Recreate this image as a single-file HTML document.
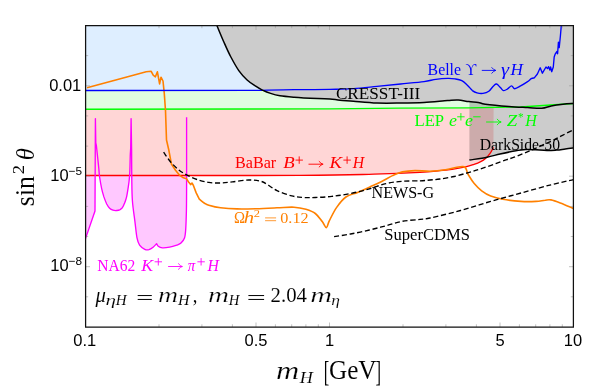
<!DOCTYPE html>
<html><head><meta charset="utf-8"><style>
html,body{margin:0;padding:0;background:#fff;}
svg{display:block;}
svg text{filter:opacity(1);}
.se{font-family:"Liberation Serif",serif;}
.sa{font-family:"Liberation Sans",sans-serif;}
</style></head><body>
<svg width="599" height="387" viewBox="0 0 599 387">
<rect width="599" height="387" fill="#fff"/>
<defs><clipPath id="cm"><rect x="85.5" y="175.5" width="110" height="90"/></clipPath></defs>
<rect x="85.5" y="25.5" width="488.0" height="65.0" fill="#deeeff"/>
<polygon points="85.5,90.5 262.0,90.3 573.5,90.3 573.5,103.5 520.6,107.0 470.0,107.8 400.0,108.2 330.0,108.9 250.0,109.0 85.5,109.2" fill="#e0fde0"/>
<path d="M85.5,109.2L250.0,109.0L330.0,108.9L400.0,108.2L470.0,107.8L493.6,107.5L493.4,147.4L493.4,147.4C493.0,148.2 491.9,150.6 491.0,152.0C490.1,153.4 489.2,154.5 488.3,155.6C487.4,156.7 486.7,157.4 485.5,158.4C484.3,159.4 483.1,160.3 481.2,161.3C479.3,162.3 476.6,163.5 474.0,164.4C471.4,165.3 469.3,166.1 465.6,166.9C461.9,167.7 456.3,168.7 452.0,169.3C447.7,169.9 445.3,170.2 440.0,170.7C434.7,171.2 431.0,171.8 420.0,172.4C409.0,173.0 394.0,173.7 374.0,174.2C354.0,174.7 348.1,175.2 300.0,175.4C251.9,175.6 121.2,175.5 85.5,175.5Z" fill="#ffd6d6"/>
<path d="M85.5,100L85.5,238.6L95.0,211.0L95.4,118.6L95.8,143.0L96.4,145.7C96.6,147.6 97.2,153.2 97.6,157.0C98.0,160.8 98.5,165.1 98.8,168.4C99.1,171.7 99.1,173.7 99.6,177.0C100.1,180.3 100.9,185.0 101.6,188.3C102.3,191.6 103.1,194.3 103.9,196.9C104.8,199.5 105.8,202.1 106.7,204.0C107.7,205.9 108.5,207.2 109.6,208.2C110.6,209.2 111.8,209.8 113.0,210.2C114.2,210.6 115.5,210.6 116.7,210.5C117.9,210.4 119.1,210.1 120.1,209.6C121.0,209.1 121.7,208.8 122.4,207.7C123.2,206.6 123.9,204.9 124.6,203.1C125.3,201.3 126.0,199.6 126.6,196.9C127.2,194.2 127.8,190.2 128.3,186.9C128.8,183.6 129.2,180.6 129.5,177.0C129.8,173.4 129.9,169.4 130.0,165.6C130.1,161.8 130.2,156.1 130.3,154.2L130.7,148.0L131.1,118.6L131.6,150.0C131.6,155.0 131.7,171.6 131.8,180.0C131.9,188.4 131.9,193.8 132.4,200.7C132.9,207.6 134.1,215.1 134.9,221.3C135.7,227.5 136.2,233.9 137.0,237.9C137.8,241.9 138.3,243.2 139.6,245.1C140.9,247.0 143.2,248.5 144.8,249.3C146.4,250.1 147.5,250.0 148.9,249.7C150.3,249.3 151.8,248.2 153.1,247.2C154.4,246.2 156.0,244.3 156.6,243.7L156.6,243.7C156.9,244.1 157.2,245.5 158.2,246.2C159.2,246.9 160.5,247.6 162.4,247.8C164.3,248.0 167.2,247.6 169.6,247.2C172.0,246.8 174.9,245.8 176.8,245.1C178.7,244.4 179.7,244.2 181.0,243.0C182.3,241.8 183.7,240.1 184.5,237.9C185.3,235.7 185.4,234.1 185.7,229.6C186.0,225.1 186.2,219.3 186.4,211.0C186.6,202.7 186.6,185.2 186.6,180.0L186.6,117.2L186.6,100Z" fill="#ffc8ff" clip-path="url(#cm)"/>
<path d="M216.9,25.5C218.0,28.1 221.2,36.0 223.5,41.2C225.8,46.4 228.0,51.6 230.6,56.5C233.2,61.4 236.1,66.7 238.8,70.6C241.6,74.5 244.3,77.5 247.1,80.0C249.8,82.5 252.8,84.2 255.3,85.9C257.9,87.6 259.8,88.8 262.4,90.1C264.9,91.3 267.7,92.5 270.6,93.4C273.5,94.4 276.1,95.2 280.0,95.8C283.9,96.4 287.8,96.7 294.1,97.2C300.4,97.7 311.6,98.3 317.6,98.6C323.6,98.9 326.3,98.6 330.0,98.9C333.7,99.2 336.1,99.8 340.0,100.2C343.9,100.6 347.3,100.7 353.5,101.2C359.7,101.7 369.1,102.7 377.0,103.0C384.9,103.3 392.8,103.1 400.6,103.0C408.4,102.9 416.2,102.8 424.0,102.4C431.8,102.0 441.9,100.9 447.6,100.5C453.3,100.1 454.7,99.8 458.2,100.0C461.7,100.2 465.5,101.2 468.8,101.6C472.1,102.0 475.4,102.0 478.2,102.4C480.9,102.8 480.2,103.5 485.3,104.2C490.4,104.9 501.8,105.9 508.8,106.4C515.9,107.0 522.1,107.2 527.6,107.5C533.1,107.8 537.9,108.5 541.8,108.2C545.7,107.9 547.7,106.6 551.2,105.9C554.7,105.2 559.3,104.6 563.0,104.2C566.7,103.8 571.8,103.6 573.5,103.5L573.5,25.5Z" fill="#cccccc"/>
<path d="M469.4,101.7C470.9,101.8 475.5,102.0 478.2,102.4C480.9,102.8 480.2,103.5 485.3,104.2C490.4,104.9 501.8,105.9 508.8,106.4C515.9,107.0 522.1,107.2 527.6,107.5C533.1,107.8 537.9,108.5 541.8,108.2C545.7,107.9 547.7,106.6 551.2,105.9C554.7,105.2 559.3,104.6 563.0,104.2C566.7,103.8 571.8,103.6 573.5,103.5L573.5,148.0C572.1,148.2 568.1,148.8 565.3,149.1C562.5,149.4 559.9,149.9 556.8,150.1C553.7,150.3 550.4,150.6 546.9,150.5C543.4,150.4 539.0,150.0 535.5,149.8C532.0,149.7 529.1,149.4 525.6,149.6C522.1,149.8 518.5,150.4 514.2,151.1C509.9,151.8 504.5,153.0 500.0,154.0C495.5,155.0 492.1,156.2 487.0,157.2C481.9,158.2 472.3,159.6 469.4,160.1Z" fill="#000" fill-opacity="0.2"/>
<path d="M85.5,109.2L250.0,109.0L330.0,108.9L400.0,108.2L470.0,107.8L520.6,107.0L573.5,103.5" fill="none" stroke="#00ff00" stroke-width="1.35" stroke-linejoin="round" />
<path d="M85.5,175.5C121.2,175.5 251.9,175.6 300.0,175.4C348.1,175.2 354.0,174.7 374.0,174.2C394.0,173.7 409.0,173.0 420.0,172.4C431.0,171.8 434.7,171.2 440.0,170.7C445.3,170.2 447.7,169.9 452.0,169.3C456.3,168.7 461.9,167.7 465.6,166.9C469.3,166.1 471.4,165.3 474.0,164.4C476.6,163.5 479.3,162.3 481.2,161.3C483.1,160.3 484.3,159.4 485.5,158.4C486.7,157.4 487.4,156.7 488.3,155.6C489.2,154.5 490.1,153.4 491.0,152.0C491.9,150.6 493.0,148.2 493.4,147.4" fill="none" stroke="#ff0000" stroke-width="1.35" stroke-linejoin="round" />
<path d="M85.5,238.6L95.0,211.0L95.4,118.6L95.8,143.0L96.4,145.7C96.6,147.6 97.2,153.2 97.6,157.0C98.0,160.8 98.5,165.1 98.8,168.4C99.1,171.7 99.1,173.7 99.6,177.0C100.1,180.3 100.9,185.0 101.6,188.3C102.3,191.6 103.1,194.3 103.9,196.9C104.8,199.5 105.8,202.1 106.7,204.0C107.7,205.9 108.5,207.2 109.6,208.2C110.6,209.2 111.8,209.8 113.0,210.2C114.2,210.6 115.5,210.6 116.7,210.5C117.9,210.4 119.1,210.1 120.1,209.6C121.0,209.1 121.7,208.8 122.4,207.7C123.2,206.6 123.9,204.9 124.6,203.1C125.3,201.3 126.0,199.6 126.6,196.9C127.2,194.2 127.8,190.2 128.3,186.9C128.8,183.6 129.2,180.6 129.5,177.0C129.8,173.4 129.9,169.4 130.0,165.6C130.1,161.8 130.2,156.1 130.3,154.2L130.7,148.0L131.1,118.6L131.6,150.0C131.6,155.0 131.7,171.6 131.8,180.0C131.9,188.4 131.9,193.8 132.4,200.7C132.9,207.6 134.1,215.1 134.9,221.3C135.7,227.5 136.2,233.9 137.0,237.9C137.8,241.9 138.3,243.2 139.6,245.1C140.9,247.0 143.2,248.5 144.8,249.3C146.4,250.1 147.5,250.0 148.9,249.7C150.3,249.3 151.8,248.2 153.1,247.2C154.4,246.2 156.0,244.3 156.6,243.7L156.6,243.7C156.9,244.1 157.2,245.5 158.2,246.2C159.2,246.9 160.5,247.6 162.4,247.8C164.3,248.0 167.2,247.6 169.6,247.2C172.0,246.8 174.9,245.8 176.8,245.1C178.7,244.4 179.7,244.2 181.0,243.0C182.3,241.8 183.7,240.1 184.5,237.9C185.3,235.7 185.4,234.1 185.7,229.6C186.0,225.1 186.2,219.3 186.4,211.0C186.6,202.7 186.6,185.2 186.6,180.0L186.6,117.2" fill="none" stroke="#ff00ff" stroke-width="1.35" stroke-linejoin="round" />
<path d="M87.0,87.8L117.6,79.4L146.2,71.8L151.2,71.3L153.2,75.2L155.4,76.8L157.4,71.8L159.6,83.9L161.0,77.2L163.0,81.0L164.3,93.7L165.5,110.5L166.5,140.0L168.7,149.5L171.4,164.0L175.5,170.2L179.6,175.3L182.7,177.4L186.5,178.8L189.0,182.6L190.6,184.6L192.0,183.0L193.5,185.7L196.2,192.9L199.3,199.1L199.3,199.1C200.2,199.8 202.9,202.2 204.5,203.2C206.1,204.2 206.1,204.4 208.8,205.2C211.5,206.0 215.9,207.2 220.6,207.8C225.3,208.4 231.1,208.8 237.0,208.9C242.9,209.1 249.2,208.9 255.9,208.7C262.6,208.5 270.6,208.1 277.0,207.8C283.4,207.6 289.2,206.9 294.0,207.2C298.8,207.4 302.3,208.2 305.9,209.3C309.4,210.4 312.6,211.4 315.3,213.5C318.1,215.6 320.5,219.5 322.4,221.8C324.2,224.2 325.2,227.8 326.4,227.6C327.6,227.4 327.7,223.9 329.4,220.6C331.1,217.3 333.8,211.5 336.5,207.6C339.2,203.7 342.4,199.5 345.9,197.0C349.4,194.5 353.7,194.0 357.6,192.4C361.5,190.8 365.5,189.0 369.4,187.2C373.3,185.4 377.3,183.8 381.2,181.8C385.1,179.8 389.5,177.1 393.0,175.4C396.5,173.8 398.7,172.7 402.4,171.9C406.1,171.1 410.4,170.7 415.0,170.6C419.6,170.5 424.9,171.3 430.0,171.2C435.1,171.0 439.8,170.5 445.4,169.7C451.0,168.9 459.7,165.8 463.5,166.6C467.3,167.3 466.2,171.4 468.0,174.2C469.8,177.0 471.7,180.5 474.0,183.3C476.3,186.1 478.9,188.7 481.7,190.8C484.5,192.9 487.2,194.6 490.7,196.0C494.2,197.4 497.8,198.4 502.8,199.3C507.9,200.2 515.5,201.1 521.0,201.4C526.5,201.8 532.0,201.6 536.0,201.4C540.0,201.2 542.5,200.4 545.0,200.2C547.5,199.9 548.5,199.4 551.0,199.9C553.5,200.4 556.5,201.5 560.3,202.9C564.0,204.3 571.3,207.5 573.5,208.4" fill="none" stroke="#ff8000" stroke-width="1.6" stroke-linejoin="round" />
<path d="M85.5,90.5L262.0,90.3L262.0,90.3C267.3,90.2 282.7,89.8 294.0,89.7C305.3,89.6 320.1,89.6 330.0,89.4C339.9,89.2 345.7,89.2 353.5,88.7C361.3,88.2 369.1,87.2 377.0,86.4C384.9,85.6 392.8,84.8 400.6,84.0C408.4,83.2 418.1,82.4 424.0,81.6C429.9,80.8 432.0,79.8 435.9,79.3C439.8,78.8 444.4,78.5 447.6,78.4C450.8,78.3 452.6,78.5 455.0,78.9C457.4,79.3 459.7,79.6 461.8,80.7C463.9,81.8 465.8,83.8 467.6,85.4C469.4,87.1 470.8,89.3 472.4,90.6C474.0,91.8 475.2,92.4 477.0,92.9C478.8,93.4 481.0,93.7 483.0,93.4C485.0,93.1 487.1,92.5 488.8,91.3C490.6,90.0 492.2,87.1 493.5,85.9C494.8,84.7 495.4,83.7 496.6,84.0C497.8,84.3 499.4,86.7 500.6,87.8C501.8,88.9 502.4,90.4 503.6,90.6C504.8,90.8 506.3,89.7 507.6,88.9C508.9,88.1 510.4,85.9 511.6,85.9C512.8,85.9 513.2,88.7 514.7,88.7C516.2,88.7 518.5,87.1 520.6,85.9C522.8,84.7 525.8,82.8 527.6,81.6C529.4,80.4 530.1,79.3 531.2,78.7C532.3,78.1 533.8,78.0 534.3,77.9L534.3,77.9L537.4,74.0L540.2,67.8L542.4,73.2L546.0,67.0L547.5,68.6L548.6,66.6L549.8,70.1L550.6,67.0L551.7,71.7L553.3,67.0L554.2,56.9L555.3,53.8L556.8,51.5L557.6,53.8L558.4,42.2L559.2,47.6L560.4,36.0L561.3,25.5" fill="none" stroke="#0000ff" stroke-width="1.35" stroke-linejoin="round" />
<path d="M216.9,25.5C218.0,28.1 221.2,36.0 223.5,41.2C225.8,46.4 228.0,51.6 230.6,56.5C233.2,61.4 236.1,66.7 238.8,70.6C241.6,74.5 244.3,77.5 247.1,80.0C249.8,82.5 252.8,84.2 255.3,85.9C257.9,87.6 259.8,88.8 262.4,90.1C264.9,91.3 267.7,92.5 270.6,93.4C273.5,94.4 276.1,95.2 280.0,95.8C283.9,96.4 287.8,96.7 294.1,97.2C300.4,97.7 311.6,98.3 317.6,98.6C323.6,98.9 326.3,98.6 330.0,98.9C333.7,99.2 336.1,99.8 340.0,100.2C343.9,100.6 347.3,100.7 353.5,101.2C359.7,101.7 369.1,102.7 377.0,103.0C384.9,103.3 392.8,103.1 400.6,103.0C408.4,102.9 416.2,102.8 424.0,102.4C431.8,102.0 441.9,100.9 447.6,100.5C453.3,100.1 454.7,99.8 458.2,100.0C461.7,100.2 465.5,101.2 468.8,101.6C472.1,102.0 475.4,102.0 478.2,102.4C480.9,102.8 480.2,103.5 485.3,104.2C490.4,104.9 501.8,105.9 508.8,106.4C515.9,107.0 522.1,107.2 527.6,107.5C533.1,107.8 537.9,108.5 541.8,108.2C545.7,107.9 547.7,106.6 551.2,105.9C554.7,105.2 559.3,104.6 563.0,104.2C566.7,103.8 571.8,103.6 573.5,103.5" fill="none" stroke="#000" stroke-width="1.5" stroke-linejoin="round" />
<path d="M469.4,160.1C472.3,159.6 481.9,158.2 487.0,157.2C492.1,156.2 495.5,155.0 500.0,154.0C504.5,153.0 509.9,151.8 514.2,151.1C518.5,150.4 522.1,149.8 525.6,149.6C529.1,149.4 532.0,149.7 535.5,149.8C539.0,150.0 543.4,150.4 546.9,150.5C550.4,150.6 553.7,150.3 556.8,150.1C559.9,149.9 562.5,149.4 565.3,149.1C568.1,148.8 572.1,148.2 573.5,148.0" fill="none" stroke="#000" stroke-width="1.5" stroke-linejoin="round" />
<path d="M163.6,152.2C164.7,153.7 167.6,158.3 170.0,161.2C172.4,164.1 175.4,167.1 178.2,169.4C180.9,171.7 183.4,173.1 186.5,174.8C189.6,176.5 193.3,178.2 197.0,179.5C200.7,180.8 204.9,181.8 208.8,182.4C212.7,183.0 216.7,183.1 220.6,183.0C224.5,182.9 227.7,182.4 232.4,181.9C237.1,181.4 244.1,180.1 248.8,180.0C253.5,179.9 257.5,180.4 260.6,181.2C263.7,182.0 264.9,183.1 267.6,184.7C270.3,186.3 273.0,188.7 277.0,190.6C281.0,192.5 287.4,194.8 291.8,195.9C296.2,197.1 299.6,197.2 303.5,197.5C307.4,197.8 310.6,197.7 315.3,197.5C320.0,197.3 325.9,197.1 331.8,196.4C337.7,195.7 344.3,194.8 350.6,193.5C356.9,192.2 363.5,190.5 369.4,188.8C375.3,187.2 380.4,184.8 385.9,183.6C391.4,182.3 396.7,181.8 402.4,181.3C408.1,180.8 415.4,181.0 420.0,180.8C424.6,180.6 426.7,180.3 430.0,180.0C433.3,179.7 436.0,179.6 440.0,179.0C444.0,178.4 449.5,177.6 454.2,176.5C458.9,175.4 464.1,173.8 468.4,172.6C472.7,171.4 475.5,170.5 479.8,169.1C484.1,167.7 489.5,165.9 494.0,164.3C498.5,162.7 503.4,160.8 506.8,159.6C510.2,158.4 510.3,158.7 514.2,157.2C518.2,155.7 525.4,152.7 530.5,150.5C535.6,148.3 541.1,145.8 545.0,144.0C548.9,142.2 551.1,141.3 554.0,139.9C556.9,138.5 559.2,137.0 562.5,135.3C565.8,133.6 571.7,130.7 573.5,129.8" fill="none" stroke="#000" stroke-width="1.35" stroke-linejoin="round" stroke-dasharray="5.1 2.7"/>
<path d="M334.1,236.6C336.9,236.2 344.7,235.1 350.6,234.0C356.5,232.9 363.5,231.4 369.4,230.0C375.3,228.6 380.4,227.2 385.9,225.8C391.4,224.4 396.7,222.4 402.4,221.3C408.1,220.2 415.4,220.0 420.0,219.4C424.6,218.8 423.2,219.5 430.0,218.0C436.8,216.5 450.4,213.3 460.5,210.5C470.6,207.7 480.6,204.3 490.7,201.4C500.8,198.5 510.9,195.8 521.0,193.0C531.0,190.2 542.2,187.0 551.0,184.8C559.8,182.6 569.8,180.5 573.5,179.6" fill="none" stroke="#000" stroke-width="1.35" stroke-linejoin="round" stroke-dasharray="5.1 2.7"/>
<path d="M85.5,327.0v-4.5M85.5,25.5v4.5M159.0,327.0v-2.7M159.0,25.5v2.7M201.9,327.0v-2.7M201.9,25.5v2.7M232.4,327.0v-2.7M232.4,25.5v2.7M256.0,327.0v-4.5M256.0,25.5v4.5M275.4,327.0v-2.7M275.4,25.5v2.7M291.7,327.0v-2.7M291.7,25.5v2.7M305.9,327.0v-2.7M305.9,25.5v2.7M318.3,327.0v-2.7M318.3,25.5v2.7M329.5,327.0v-4.5M329.5,25.5v4.5M403.0,327.0v-2.7M403.0,25.5v2.7M445.9,327.0v-2.7M445.9,25.5v2.7M476.4,327.0v-2.7M476.4,25.5v2.7M500.0,327.0v-4.5M500.0,25.5v4.5M519.4,327.0v-2.7M519.4,25.5v2.7M535.7,327.0v-2.7M535.7,25.5v2.7M549.9,327.0v-2.7M549.9,25.5v2.7M562.3,327.0v-2.7M562.3,25.5v2.7M85.5,296.8h2.7M573.5,296.8h-2.7M85.5,266.7h4.5M573.5,266.7h-4.5M85.5,236.5h2.7M573.5,236.5h-2.7M85.5,206.4h2.7M573.5,206.4h-2.7M85.5,176.2h4.5M573.5,176.2h-4.5M85.5,146.1h2.7M573.5,146.1h-2.7M85.5,115.9h2.7M573.5,115.9h-2.7M85.5,85.8h4.5M573.5,85.8h-4.5M85.5,55.6h2.7M573.5,55.6h-2.7" stroke="#9a9a9a" stroke-width="0.6" fill="none"/>
<path d="M85.6,25.5H573.4V327.2H85.6Z" fill="none" stroke="#111" stroke-width="1.25"/>
<text x="84.7" y="345.6" class="sa" font-size="16.5" text-anchor="middle" fill="#000">0.1</text>
<text x="256" y="345.6" class="sa" font-size="16.5" text-anchor="middle" fill="#000">0.5</text>
<text x="329.5" y="345.6" class="sa" font-size="16.5" text-anchor="middle" fill="#000">1</text>
<text x="500" y="345.6" class="sa" font-size="16.5" text-anchor="middle" fill="#000">5</text>
<text x="573" y="345.6" class="sa" font-size="16.5" text-anchor="middle" fill="#000">10</text>
<text x="81.3" y="91.1" class="sa" font-size="16.5" text-anchor="end" fill="#000">0.01</text>
<text x="50.3" y="181.2" class="sa" font-size="16.5" fill="#000">10<tspan font-size="11.8" dy="-5.8">−5</tspan></text>
<text x="50.3" y="271.2" class="sa" font-size="16.5" fill="#000">10<tspan font-size="11.8" dy="-5.8">−8</tspan></text>
<text transform="translate(335.91,99.0) scale(1.035,1.000)" class="se" font-size="16.6" fill="#000001" >CRESST-III</text>
<text transform="translate(479.73,149.8) scale(0.947,1.000)" class="se" font-size="16.6" fill="#000001" >DarkSide-50</text>
<text transform="translate(371.52,198.2) scale(0.970,1.000)" class="se" font-size="16.6" fill="#000001" >NEWS-G</text>
<text transform="translate(384.24,240.4) scale(0.999,1.000)" class="se" font-size="16.6" fill="#000001" >SuperCDMS</text>
<text transform="translate(427.62,74.6) scale(0.955,1.000)" class="se" font-size="16.6" fill="#0000ff" >Belle</text>
<text transform="translate(465.50,74.6) scale(0.899,1.000)" class="se" font-size="16.6" fill="#0000ff" >ϒ</text>
<path d="M482.2,70.39999999999999H495.6M491.8,67.6Q493.8,69.99999999999999 495.6,70.39999999999999Q493.8,70.8 491.8,73.19999999999999" fill="none" stroke="#0000ff" stroke-width="0.9" stroke-linecap="round"/>
<text transform="translate(501.09,74.6) scale(1.235,1.000)" class="se" font-size="16.6" fill="#0000ff" font-style="italic">γ</text>
<text transform="translate(510.47,74.6) scale(1.035,1.000)" class="se" font-size="16.6" fill="#0000ff" font-style="italic">H</text>
<text transform="translate(414.50,126.0) scale(1.004,1.000)" class="se" font-size="16.6" fill="#00ff00" >LEP</text>
<text transform="translate(448.96,126.0) scale(1.081,1.000)" class="se" font-size="16.6" fill="#00ff00" font-style="italic">e</text>
<path d="M457.20,116.8H464.60M460.9,113.10V120.50" fill="none" stroke="#00ff00" stroke-width="0.9"/>
<text transform="translate(465.06,126.0) scale(1.081,1.000)" class="se" font-size="16.6" fill="#00ff00" font-style="italic">e</text>
<path d="M473.20,116.8H480.60" fill="none" stroke="#00ff00" stroke-width="0.9"/>
<path d="M486.5,122.0H501M497.2,119.2Q499.2,121.6 501,122.0Q499.2,122.4 497.2,124.8" fill="none" stroke="#00ff00" stroke-width="0.9" stroke-linecap="round"/>
<text transform="translate(506.81,126.0) scale(1.128,1.000)" class="se" font-size="16.6" fill="#00ff00" font-style="italic">Z</text>
<text transform="translate(518.04,121.4) scale(0.970,1.000)" class="se" font-size="11.6" fill="#00ff00" >*</text>
<text transform="translate(525.26,126.0) scale(0.965,1.000)" class="se" font-size="16.6" fill="#00ff00" font-style="italic">H</text>
<text transform="translate(235.02,168.0) scale(0.973,1.000)" class="se" font-size="16.6" fill="#ff0000" >BaBar</text>
<text transform="translate(283.21,168.0) scale(1.132,1.000)" class="se" font-size="16.6" fill="#ff0000" font-style="italic">B</text>
<path d="M295.50,160.1H302.90M299.2,156.40V163.80" fill="none" stroke="#ff0000" stroke-width="0.9"/>
<path d="M308.9,164.2H322.9M319.09999999999997,161.39999999999998Q321.09999999999997,163.79999999999998 322.9,164.2Q321.09999999999997,164.6 319.09999999999997,167.0" fill="none" stroke="#ff0000" stroke-width="0.9" stroke-linecap="round"/>
<text transform="translate(329.49,168.0) scale(1.130,1.000)" class="se" font-size="16.6" fill="#ff0000" font-style="italic">K</text>
<path d="M343.40,160.1H350.80M347.1,156.40V163.80" fill="none" stroke="#ff0000" stroke-width="0.9"/>
<text transform="translate(352.86,168.0) scale(0.950,1.000)" class="se" font-size="16.6" fill="#ff0000" font-style="italic">H</text>
<text transform="translate(97.33,270.6) scale(0.937,1.000)" class="se" font-size="16.6" fill="#ff00ff" >NA62</text>
<text transform="translate(141.18,270.6) scale(1.071,1.000)" class="se" font-size="16.6" fill="#ff00ff" font-style="italic">K</text>
<path d="M154.60,261.8H162.00M158.3,258.10V265.50" fill="none" stroke="#ff00ff" stroke-width="0.9"/>
<path d="M168.5,266.5H182.2M178.39999999999998,263.7Q180.39999999999998,266.1 182.2,266.5Q180.39999999999998,266.9 178.39999999999998,269.3" fill="none" stroke="#ff00ff" stroke-width="0.9" stroke-linecap="round"/>
<text transform="translate(187.85,270.6) scale(0.898,1.000)" class="se" font-size="16.6" fill="#ff00ff" font-style="italic">π</text>
<path d="M197.40,261.8H204.80M201.1,258.10V265.50" fill="none" stroke="#ff00ff" stroke-width="0.9"/>
<text transform="translate(207.46,270.6) scale(0.950,1.000)" class="se" font-size="16.6" fill="#ff00ff" font-style="italic">H</text>
<text transform="translate(233.96,222.5) scale(0.990,1.046)" class="se" font-size="15" fill="#ff8000" >Ω</text>
<text transform="translate(243.87,222.5) scale(1.381,1.063)" class="se" font-size="15" fill="#ff8000" font-style="italic">h</text>
<text transform="translate(253.70,216.9) scale(1.190,1.000)" class="se" font-size="10.5" fill="#ff8000" >2</text>
<path d="M265.1,217.9H276.1M265.1,220.70000000000002H276.1" fill="none" stroke="#ff8000" stroke-width="0.8"/>
<text transform="translate(280.25,222.5) scale(1.079,1.000)" class="se" font-size="15" fill="#ff8000" >0.12</text>
<text transform="translate(95.40,302.3) scale(1.022,1.000)" class="se" font-size="20.4" fill="#000" stroke="#fff" stroke-width="0.060" font-style="italic">μ</text>
<text transform="translate(105.45,304.90000000000003) scale(1.474,1.000)" class="se" font-size="14.4" fill="#000" stroke="#fff" stroke-width="0.120" font-style="italic">η</text>
<text transform="translate(115.75,304.90000000000003) scale(1.042,1.000)" class="se" font-size="14.4" fill="#000" stroke="#fff" stroke-width="0.030" font-style="italic">H</text>
<path d="M137.7,295.55H151.8M137.7,299.45H151.8" fill="none" stroke="#000" stroke-width="1.0"/>
<text transform="translate(157.89,302.3) scale(1.363,1.001)" class="se" font-size="20.4" fill="#000" stroke="#fff" stroke-width="0.240" font-style="italic">m</text>
<text transform="translate(178.06,304.90000000000003) scale(1.104,1.000)" class="se" font-size="14.4" fill="#000" stroke="#fff" stroke-width="0.030" font-style="italic">H</text>
<text transform="translate(192.65,302.3) scale(0.915,1.000)" class="se" font-size="20.4" fill="#000" stroke="#fff" stroke-width="0.060" >,</text>
<text transform="translate(208.04,302.3) scale(1.425,1.001)" class="se" font-size="20.4" fill="#000" stroke="#fff" stroke-width="0.240" font-style="italic">m</text>
<text transform="translate(228.75,304.90000000000003) scale(1.015,1.000)" class="se" font-size="14.4" fill="#000" stroke="#fff" stroke-width="0.030" font-style="italic">H</text>
<path d="M248.4,295.55H264.1M248.4,299.45H264.1" fill="none" stroke="#000" stroke-width="1.0"/>
<text transform="translate(270.57,302.3) scale(1.018,1.000)" class="se" font-size="20.4" fill="#000" stroke="#fff" stroke-width="0.060" >2.04</text>
<text transform="translate(310.19,302.3) scale(1.478,1.001)" class="se" font-size="20.4" fill="#000" stroke="#fff" stroke-width="0.240" font-style="italic">m</text>
<text transform="translate(331.30,304.90000000000003) scale(1.220,1.000)" class="se" font-size="14.4" fill="#000" stroke="#fff" stroke-width="0.120" font-style="italic">η</text>
<text transform="translate(275.91,379.0) scale(1.206,0.972)" class="se" font-size="26.7" fill="#000" stroke="#fff" stroke-width="0.240" font-style="italic">m</text>
<text transform="translate(299.68,382.5) scale(1.021,1.000)" class="se" font-size="17.7" fill="#000" stroke="#fff" stroke-width="0.060" font-style="italic">H</text>
<text transform="translate(323.74,380.6158536585366) scale(0.619,1.119)" class="se" font-size="26.7" fill="#000" stroke="#fff" stroke-width="0.060" >[</text>
<text transform="translate(328.99,379.0) scale(0.944,1.000)" class="se" font-size="26.7" fill="#000" stroke="#fff" stroke-width="0.060" >GeV</text>
<text transform="translate(375.53,380.6158536585366) scale(0.630,1.119)" class="se" font-size="26.7" fill="#000" stroke="#fff" stroke-width="0.060" >]</text>
<g transform="translate(33.9,205.1) rotate(-90)">
<text transform="translate(-1.03,0) scale(0.965,1.000)" class="se" font-size="26.7" fill="#000" stroke="#fff" stroke-width="0.060" >sin</text>
<text transform="translate(30.85,-10.4) scale(1.109,1.000)" class="se" font-size="16.9" fill="#000" stroke="#fff" stroke-width="0.030" >2</text>
<text transform="translate(44.87,0) scale(0.918,0.968)" class="se" font-size="26.7" fill="#000" stroke="#fff" stroke-width="0.060" font-style="italic">θ</text>
</g>
</svg>
</body></html>
